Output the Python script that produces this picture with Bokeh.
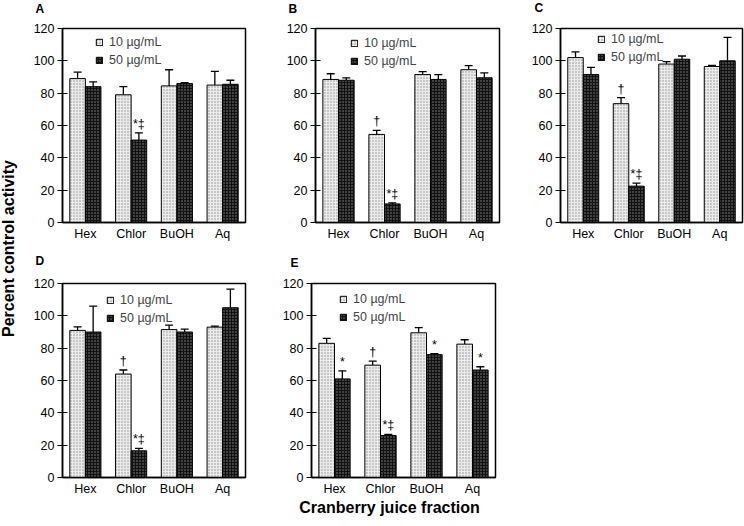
from math import pi
from bokeh.plotting import figure
from bokeh.models import (FactorRange, Range1d, Whisker, TeeHead, ColumnDataSource,
                          Legend, LegendItem, FixedTicker)
from bokeh.transform import dodge
from bokeh.layouts import row, column
from bokeh.embed import file_html
from bokeh.resources import INLINE
from bokeh.core.properties import value

FONT = "Liberation Sans"

# ---------------- data ----------------
fractions = ["Hex", "Chlor", "BuOH", "Aq"]
y_ticks = [0, 20, 40, 60, 80, 100, 120]
series_labels = ["10 µg/mL", "50 µg/mL"]
top_letters = ["A", "B", "C"]
bottom_letters = ["D", "E"]

a_10 = [89, 79, 84.5, 85]
a_10_err = [4, 5, 10, 8.5]
a_50 = [84, 51, 86, 85.5]
a_50_err = [3, 4.5, 0.5, 2.5]
a_marks_10 = ["", "", "", ""]
a_marks_50 = ["", "*‡", "", ""]

b_10 = [88.5, 54.5, 91.5, 94.5]
b_10_err = [3.5, 2.5, 1.8, 2.5]
b_50 = [88, 11.5, 88.5, 89.5]
b_50_err = [1.5, 0.7, 3, 3]
b_marks_10 = ["", "†", "", ""]
b_marks_50 = ["", "*‡", "", ""]

c_10 = [102, 73.5, 98, 96.5]
c_10_err = [3.5, 3.7, 1.5, 0.6]
c_50 = [91.5, 22.5, 101, 100]
c_50_err = [4.5, 1.8, 2, 14.5]
c_marks_10 = ["", "†", "", ""]
c_marks_50 = ["", "*‡", "", ""]

d_10 = [91, 64, 91.5, 93]
d_10_err = [2.2, 2.5, 2.7, 0.6]
d_50 = [90, 16.5, 90, 105]
d_50_err = [16, 1.5, 1.8, 11.5]
d_marks_10 = ["", "†", "", ""]
d_marks_50 = ["", "*‡", "", ""]

e_10 = [83, 69.5, 89.5, 82.5]
e_10_err = [3, 2.5, 3.2, 2.7]
e_50 = [61, 26, 76, 66.5]
e_50_err = [5, 0.7, 0.6, 2]
e_marks_10 = ["", "†", "", ""]
e_marks_50 = ["*", "*‡", "*", "*"]

FRAME_H = 194


def make_panel(v10, e10, v50, e50, m10, m50, fw, bl, br, bt, bb, leg_x, leg_row1):
    p = figure(x_range=FactorRange(factors=fractions, range_padding=0),
               y_range=Range1d(0, 120),
               frame_width=fw, frame_height=FRAME_H,
               output_backend="svg", toolbar_location=None, title=None,
               min_border_left=bl, min_border_right=br,
               min_border_top=bt, min_border_bottom=bb)
    src = ColumnDataSource(dict(
        cat=fractions, v10=v10, v50=v50,
        t10=[v + e for v, e in zip(v10, e10)],
        t50=[v + e for v, e in zip(v50, e50)],
        m10=m10, m50=m50))
    x10 = dodge("cat", -0.17, range=p.x_range)
    x50 = dodge("cat", 0.17, range=p.x_range)
    r10 = p.vbar(x=x10, top="v10", width=0.34, source=src,
                 fill_color="#ececec", line_color="black", line_width=1,
                 hatch_pattern="dot", hatch_color="#8c8c8c",
                 hatch_scale=3, hatch_weight=1.2)
    r50 = p.vbar(x=x50, top="v50", width=0.34, source=src,
                 fill_color="#121212", line_color="black", line_width=1,
                 hatch_pattern="dot", hatch_color="#8a8a8a",
                 hatch_scale=3, hatch_weight=1.2)
    for xs, lo, hi in ((x10, "v10", "t10"), (x50, "v50", "t50")):
        w = Whisker(base=xs, lower=lo, upper=hi, source=src,
                    upper_head=TeeHead(size=8, line_width=1.3, line_color="black"),
                    lower_head=None, line_width=1.3, line_color="black")
        p.add_layout(w)
    for xs, top, mk in ((x10, "t10", "m10"), (x50, "t50", "m50")):
        p.text(x=xs, y=top, text=mk, source=src, text_align="center",
               text_baseline="bottom", y_offset=-2,
               text_font=value(FONT), text_font_size="12.5px",
               text_color="#000000")

    legend_h = 2 * 16 + 2
    legend = Legend(items=[LegendItem(label=series_labels[0], renderers=[r10]),
                           LegendItem(label=series_labels[1], renderers=[r50])],
                    location=(leg_x, FRAME_H - (leg_row1 - 8) - legend_h))
    legend.border_line_color = None
    legend.background_fill_alpha = 0
    legend.padding = 0
    legend.margin = 0
    legend.spacing = 2
    legend.glyph_width = 8
    legend.glyph_height = 8
    legend.label_height = 16
    legend.label_standoff = 6
    legend.label_text_font = FONT
    legend.label_text_font_size = "12.5px"
    p.add_layout(legend)

    p.xgrid.visible = False
    p.ygrid.visible = False
    p.outline_line_color = "black"
    p.outline_line_width = 1.5
    p.outline_line_alpha = 1
    p.background_fill_color = "white"
    p.border_fill_color = "white"

    p.xaxis.major_tick_line_color = None
    p.xaxis.minor_tick_line_color = None
    p.xaxis.major_tick_in = 0
    p.xaxis.major_tick_out = 0
    p.xaxis.axis_line_width = 1.5
    p.xaxis.major_label_text_font = FONT
    p.xaxis.major_label_text_font_size = "12.5px"
    p.xaxis.major_label_standoff = 4
    p.xaxis.major_label_text_color = "black"

    p.yaxis.ticker = FixedTicker(ticks=y_ticks)
    p.yaxis.minor_tick_line_color = None
    p.yaxis.major_tick_in = 5
    p.yaxis.major_tick_out = 5
    p.yaxis.major_tick_line_width = 1.2
    p.yaxis.axis_line_width = 1.5
    p.yaxis.major_label_text_font = FONT
    p.yaxis.major_label_text_font_size = "12.5px"
    p.yaxis.major_label_standoff = 3
    p.yaxis.major_label_text_color = "black"
    return p


def letter_strip(letters, xs, ys, height):
    s = figure(width=720, height=height, x_range=Range1d(0, 720),
               y_range=Range1d(0, height), output_backend="svg",
               toolbar_location=None, min_border=0, title=None,
               x_axis_location=None, y_axis_location=None)
    s.grid.visible = False
    s.outline_line_color = None
    s.text(x=xs, y=ys, text=letters, text_align="left",
           text_baseline="middle", text_font=value(FONT),
           text_font_size="12px", text_font_style="bold", text_color="black")
    return s


# page rows: strip1 0..16, row1 16..250 (frames 28..222),
#            strip2 250..270, row2 270..499 (frames 283..477), x title 499..526
strip1 = letter_strip(top_letters, [11, 264, 510], [8, 8, 8.5], 16)
pa = make_panel(a_10, a_10_err, a_50, a_50_err, a_marks_10, a_marks_50,
                183, 38, 30, 12, 28, 33, 14)
pb = make_panel(b_10, b_10_err, b_50, b_50_err, b_marks_10, b_marks_50,
                184, 40, 21, 12, 28, 35, 15)
pc = make_panel(c_10, c_10_err, c_50, c_50_err, c_marks_10, c_marks_50,
                182, 40, 2, 12, 28, 37, 11)
strip2 = letter_strip(bottom_letters, [11, 266], [10, 7.7], 20)
pd = make_panel(d_10, d_10_err, d_50, d_50_err, d_marks_10, d_marks_50,
                183, 38, 30, 13, 22, 44, 17)
pe = make_panel(e_10, e_10_err, e_50, e_50_err, e_marks_10, e_marks_50,
                184, 36, 5, 13, 22, 28, 16)

yl = figure(width=24, height=499, x_range=Range1d(0, 24), y_range=Range1d(0, 499),
            output_backend="svg", toolbar_location=None, min_border=0,
            x_axis_location=None, y_axis_location=None, title=None)
yl.grid.visible = False
yl.outline_line_color = None
yl.text(x=[8], y=[251], text=["Percent control activity"], angle=pi / 2,
        text_align="center", text_baseline="middle", text_font=value(FONT),
        text_font_size="16px", text_font_style="bold", text_color="black")

xt = figure(width=744, height=27, x_range=Range1d(0, 744), y_range=Range1d(0, 27),
            output_backend="svg", toolbar_location=None, min_border=0,
            x_axis_location=None, y_axis_location=None, title=None)
xt.grid.visible = False
xt.outline_line_color = None
xt.text(x=[389], y=[19], text=["Cranberry juice fraction"], text_align="center",
        text_baseline="middle", text_font=value(FONT), text_font_size="16px",
        text_font_style="bold", text_color="black")

layout = column(row(yl, column(strip1, row(pa, pb, pc), strip2, row(pd, pe))), xt)

open("out.html", "w").write(file_html(layout, INLINE))
